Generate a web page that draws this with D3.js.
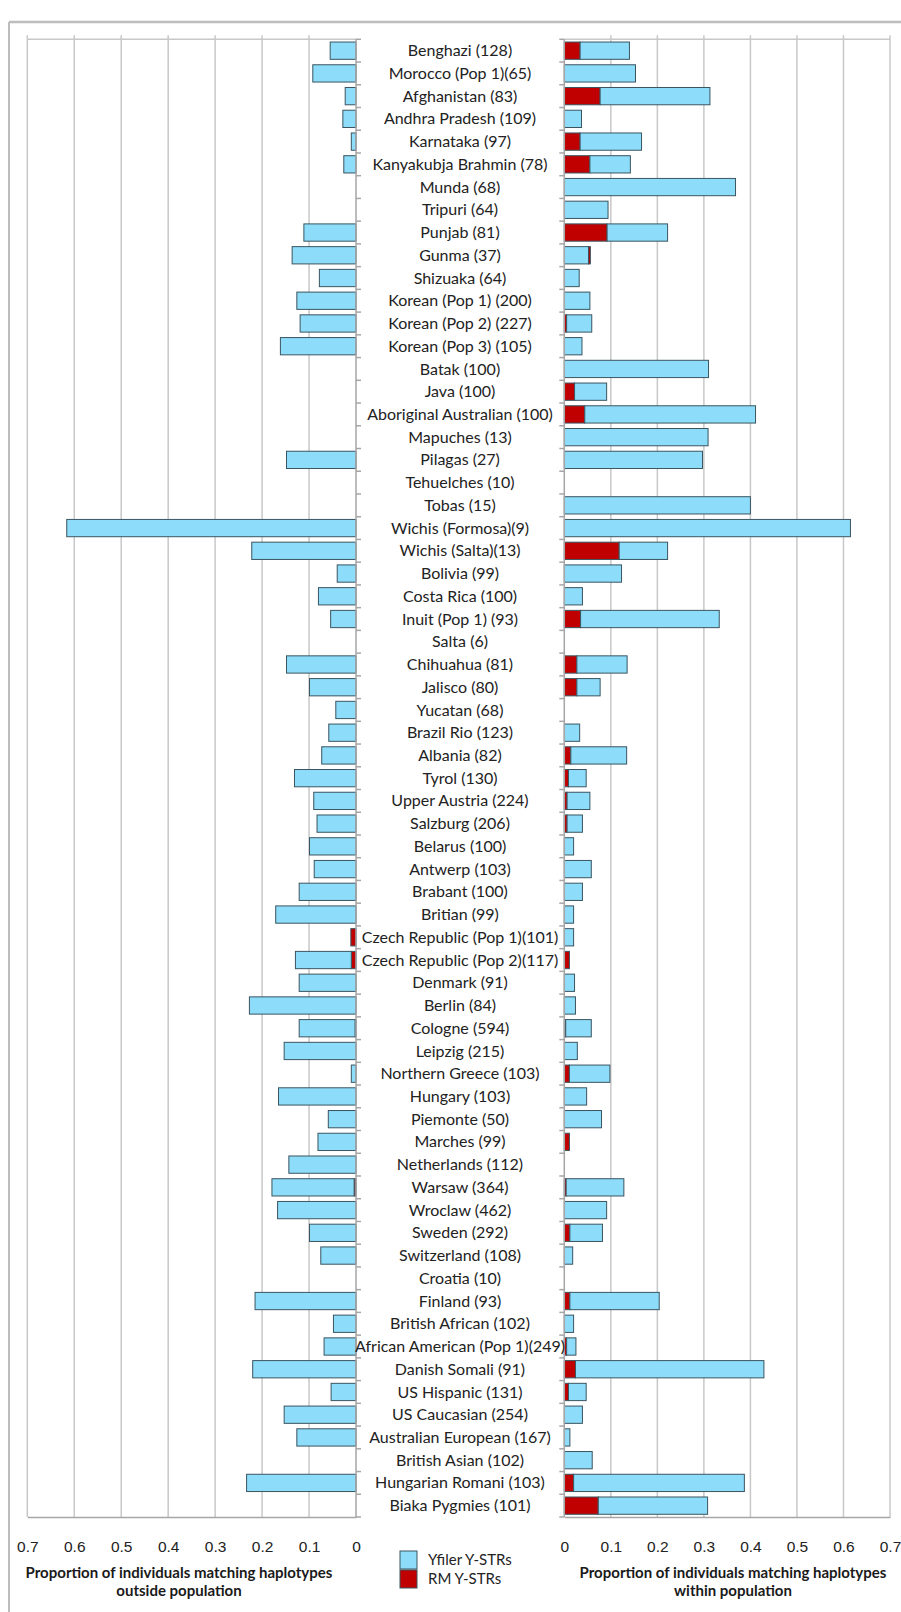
<!DOCTYPE html>
<html>
<head>
<meta charset="utf-8">
<script src="https://cdn.jsdelivr.net/npm/d3@7"></script>
<style>
  body { margin: 0; background: #fff; }
  svg { display: block; font-family: Lato, "Open Sans", sans-serif; }
</style>
</head>
<body>
<div id="chart"></div>
<script>
const categories = [
  "Benghazi (128)", "Morocco (Pop 1)(65)", "Afghanistan (83)", "Andhra Pradesh (109)",
  "Karnataka (97)", "Kanyakubja Brahmin (78)", "Munda (68)", "Tripuri (64)", "Punjab (81)",
  "Gunma (37)", "Shizuaka (64)", "Korean (Pop 1) (200)", "Korean (Pop 2) (227)",
  "Korean (Pop 3) (105)", "Batak (100)", "Java (100)", "Aboriginal Australian (100)",
  "Mapuches (13)", "Pilagas (27)", "Tehuelches (10)", "Tobas (15)", "Wichis (Formosa)(9)",
  "Wichis (Salta)(13)", "Bolivia (99)", "Costa Rica (100)", "Inuit (Pop 1) (93)", "Salta (6)",
  "Chihuahua (81)", "Jalisco (80)", "Yucatan (68)", "Brazil Rio (123)", "Albania (82)",
  "Tyrol (130)", "Upper Austria (224)", "Salzburg (206)", "Belarus (100)", "Antwerp (103)",
  "Brabant (100)", "Britian (99)", "Czech Republic (Pop 1)(101)", "Czech Republic (Pop 2)(117)",
  "Denmark (91)", "Berlin (84)", "Cologne (594)", "Leipzig (215)", "Northern Greece (103)",
  "Hungary (103)", "Piemonte (50)", "Marches (99)", "Netherlands (112)", "Warsaw (364)",
  "Wroclaw (462)", "Sweden (292)", "Switzerland (108)", "Croatia (10)", "Finland (93)",
  "British African (102)", "African American (Pop 1)(249)", "Danish Somali (91)",
  "US Hispanic (131)", "US Caucasian (254)", "Australian European (167)", "British Asian (102)",
  "Hungarian Romani (103)", "Biaka Pygmies (101)"
];

// outside population (left panel)
const outsideRM = [
  0, 0, 0, 0, 0, 0, 0, 0, 0, 0, 0, 0, 0, 0, 0, 0, 0, 0, 0, 0, 0, 0, 0, 0, 0, 0, 0, 0, 0, 0,
  0, 0, 0, 0, 0, 0, 0, 0, 0, 0.011, 0.010, 0, 0, 0.002, 0, 0, 0, 0, 0, 0, 0.004, 0, 0, 0, 0,
  0, 0, 0, 0, 0, 0, 0, 0, 0, 0
];
const outsideYfiler = [
  0.055, 0.092, 0.023, 0.028, 0.010, 0.026, 0, 0, 0.111, 0.136, 0.078, 0.126, 0.119, 0.161,
  0, 0, 0, 0, 0.148, 0, 0, 0.616, 0.222, 0.040, 0.080, 0.054, 0, 0.148, 0.099, 0.043, 0.058,
  0.073, 0.131, 0.090, 0.083, 0.099, 0.089, 0.121, 0.171, 0, 0.119, 0.121, 0.227, 0.119,
  0.153, 0.010, 0.165, 0.059, 0.081, 0.143, 0.175, 0.167, 0.099, 0.075, 0, 0.215, 0.048,
  0.068, 0.220, 0.053, 0.153, 0.126, 0, 0.233, 0
];

// within population (right panel)
const withinRM = [
  0.034, 0, 0.077, 0, 0.034, 0.055, 0, 0, 0.092, 0, 0, 0, 0.005, 0, 0, 0.022, 0.044, 0, 0,
  0, 0, 0, 0.118, 0, 0, 0.035, 0, 0.027, 0.027, 0, 0, 0.014, 0.009, 0.006, 0.006, 0, 0, 0,
  0, 0, 0.011, 0, 0, 0.003, 0, 0.011, 0, 0, 0.011, 0, 0.004, 0, 0.012, 0, 0, 0.012, 0, 0.005,
  0.024, 0.009, 0, 0, 0, 0.020, 0.073
];
const withinYfiler = [
  0.106, 0.153, 0.236, 0.037, 0.132, 0.087, 0.368, 0.094, 0.130, 0.052, 0.032, 0.055, 0.054,
  0.038, 0.310, 0.069, 0.367, 0.309, 0.297, 0, 0.400, 0.615, 0.104, 0.123, 0.039, 0.298, 0,
  0.108, 0.050, 0, 0.033, 0.120, 0.038, 0.049, 0.033, 0.020, 0.058, 0.039, 0.020, 0.020, 0,
  0.022, 0.024, 0.055, 0.028, 0.087, 0.048, 0.080, 0, 0, 0.124, 0.091, 0.070, 0.018, 0,
  0.192, 0.020, 0.020, 0.405, 0.038, 0.039, 0.012, 0.060, 0.367, 0.235
];
// RM share drawn after the Yfiler bar (only Gunma)
const withinRMTail = categories.map(c => c === "Gunma (37)" ? 0.004 : 0);

const tickValues = [0, 0.1, 0.2, 0.3, 0.4, 0.5, 0.6, 0.7];
const legendItems = ["Yfiler Y-STRs", "RM Y-STRs"];

const width = 901;
const height = 1612;
const blue = "#8ddcfa";
const red = "#c00000";
const gridColor = "#c8c8c8";
const textColor = "#222";

const svg = d3.select("#chart").append("svg")
  .attr("width", width)
  .attr("height", height);

// outer frame
svg.append("line").attr("x1", 9).attr("x2", width).attr("y1", 22).attr("y2", 22)
  .attr("stroke", "#bdbdbd").attr("stroke-width", 2.5);
svg.append("line").attr("x1", 9).attr("x2", 9).attr("y1", 22).attr("y2", height)
  .attr("stroke", "#bdbdbd").attr("stroke-width", 2);

const plotTop = 39.3, plotBottom = 1517;

const y = d3.scaleBand()
  .domain(categories)
  .range([plotTop, plotBottom])
  .paddingInner(0.24)
  .paddingOuter(0.12);

const xL = d3.scaleLinear().domain([0, 0.7]).range([356, 27.3]);
const xR = d3.scaleLinear().domain([0, 0.7]).range([564.3, 890]);

const stack = d3.stack().keys(["rm", "yf", "rm2"]);
const colorOf = { rm: red, yf: blue, rm2: red };

const leftRows = categories.map((c, i) => ({ name: c, rm: outsideRM[i], yf: outsideYfiler[i], rm2: 0 }));
const rightRows = categories.map((c, i) => ({ name: c, rm: withinRM[i], yf: withinYfiler[i], rm2: withinRMTail[i] }));

function panel(rows, x, side) {
  const g = svg.append("g");

  // gridlines
  g.selectAll("line.grid")
    .data(tickValues.filter(t => t > 0))
    .join("line")
    .attr("class", "grid")
    .attr("x1", d => x(d)).attr("x2", d => x(d))
    .attr("y1", plotTop - 4).attr("y2", plotBottom)
    .attr("stroke", gridColor).attr("stroke-width", 1.5);

  // top border
  g.append("line")
    .attr("x1", d3.min(x.range())).attr("x2", d3.max(x.range()))
    .attr("y1", plotTop).attr("y2", plotTop)
    .attr("stroke", gridColor).attr("stroke-width", 1.5);

  // bars
  const series = stack(rows);
  series.forEach(s => {
    g.append("g")
      .selectAll("rect")
      .data(s.filter(d => d[1] - d[0] > 0))
      .join("rect")
      .attr("x", d => Math.min(x(d[0]), x(d[1])))
      .attr("width", d => Math.abs(x(d[1]) - x(d[0])))
      .attr("y", d => y(d.data.name))
      .attr("height", y.bandwidth())
      .attr("fill", colorOf[s.key])
      .attr("stroke", "#3a5560")
      .attr("stroke-width", 1);
  });

  // zero axis line
  g.append("line")
    .attr("x1", x(0)).attr("x2", x(0))
    .attr("y1", plotTop).attr("y2", plotBottom)
    .attr("stroke", "#a6a6a6").attr("stroke-width", 1.5);

  // category ticks toward the centre
  const step = y.step();
  const edges = d3.range(categories.length + 1).map(i => plotTop + i * step);
  g.selectAll("line.cat")
    .data(edges)
    .join("line")
    .attr("class", "cat")
    .attr("x1", x(0)).attr("x2", x(0) + (side === "left" ? 5 : -5))
    .attr("y1", d => d).attr("y2", d => d)
    .attr("stroke", "#a6a6a6").attr("stroke-width", 1.5);

  // bottom axis
  const axis = d3.axisBottom(x)
    .tickValues(tickValues)
    .tickSize(0)
    .tickPadding(24)
    .tickFormat(d => d === 0 ? "0" : d3.format(".1f")(d));
  const ax = g.append("g").attr("transform", `translate(0,${plotBottom})`).call(axis);
  ax.select(".domain").attr("stroke", "#a6a6a6").attr("stroke-width", 1.5);
  ax.selectAll("text")
    .attr("fill", textColor)
    .style("font-size", "15.5px");
}

panel(leftRows, xL, "left");
panel(rightRows, xR, "right");

// category labels
svg.append("g")
  .selectAll("text")
  .data(categories)
  .join("text")
  .attr("x", 460)
  .attr("y", d => y(d) + y.bandwidth() / 2)
  .attr("dy", "0.35em")
  .attr("text-anchor", "middle")
  .attr("fill", textColor)
  .style("font-size", "16px")
  .text(d => d);

// axis titles
const titles = [
  { x: 179, lines: ["Proportion of individuals matching haplotypes", "outside population"] },
  { x: 733, lines: ["Proportion of individuals matching haplotypes", "within population"] }
];
titles.forEach(t => {
  svg.append("text")
    .attr("x", t.x)
    .attr("y", 1578)
    .attr("text-anchor", "middle")
    .attr("fill", "#1a1a1a")
    .style("font-size", "15px")
    .style("font-weight", "bold")
    .selectAll("tspan")
    .data(t.lines)
    .join("tspan")
    .attr("x", t.x)
    .attr("dy", (d, i) => i === 0 ? 0 : 18)
    .text(d => d);
});

// legend
const legend = svg.append("g").attr("transform", "translate(400,1551)");
legend.selectAll("rect")
  .data(legendItems)
  .join("rect")
  .attr("x", 0)
  .attr("y", (d, i) => i * 19)
  .attr("width", 17)
  .attr("height", 18)
  .attr("fill", (d, i) => i === 0 ? blue : red)
  .attr("stroke", "#3a5560")
  .attr("stroke-width", 1);
legend.selectAll("text")
  .data(legendItems)
  .join("text")
  .attr("x", 28)
  .attr("y", (d, i) => i * 19 + 9)
  .attr("dy", "0.35em")
  .attr("fill", textColor)
  .style("font-size", "15px")
  .text(d => d);
</script>
</body>
</html>
